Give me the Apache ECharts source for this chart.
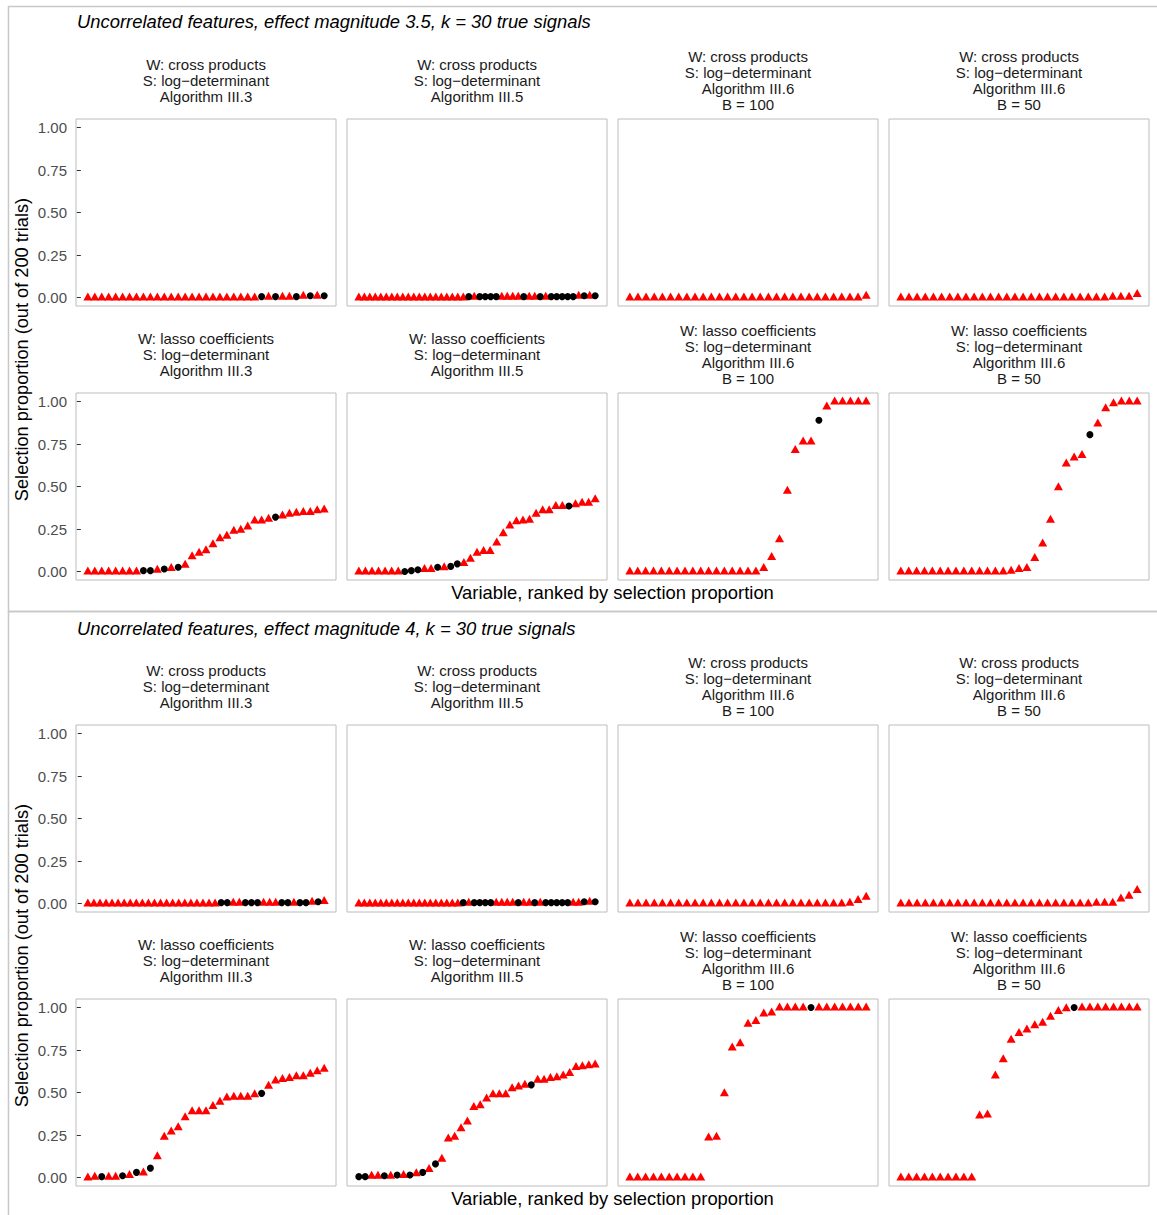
<!DOCTYPE html>
<html>
<head>
<meta charset="utf-8">
<script src="https://cdn.jsdelivr.net/npm/echarts@6/dist/echarts.min.js"></script>
<style>
  html, body { margin: 0; padding: 0; background: #ffffff; }
  #chart { width: 1157px; height: 1215px; }
</style>
</head>
<body>
<div id="chart"></div>
<script>
// Selection proportion (out of 200 trials) of each variable, ranked ascending.
// The *_nulls lists hold the ranks of non-signal variables (black dots);
// every other rank is one of the k = 30 true signals (red triangles).

// ---- effect magnitude 3.5 ----
const m35_cross_III3 = [0,0,0,0,0,0,0,0,0,0, 0,0,0,0,0,0,0,0,0,0, 0,0,0,0,0,
  0.005,0.005,0.005,0.005,0.005,0.005, 0.01,0.01,0.01,0.01];
const m35_cross_III3_nulls = [26,28,31,33,35];

const m35_cross_III5 = [0,0,0,0,0,0,0,0,0,0, 0,0,0,0,0,0,0,0,0,0,
  0.005,0.005,0.005,0.005,0.005,0.005,0.005,0.005,0.005,0.005,
  0.005,0.005,0.005,0.005,0.005,0.005,0.005,0.005,0.005,0.005,
  0.01,0.01,0.01,0.01];
const m35_cross_III5_nulls = [21,23,24,25,26,31,34,36,37,38,39,40,42,44];

const m35_cross_III6_B100 = [0,0,0,0,0,0,0,0,0,0, 0,0,0,0,0,0,0,0,0,0,
  0,0,0,0,0,0,0,0,0, 0.01];
const m35_cross_III6_B100_nulls = [];

const m35_cross_III6_B50 = [0,0,0,0,0,0,0,0,0,0, 0,0,0,0,0,0,0,0,0,0,
  0,0,0,0,0,0, 0.005,0.005,0.005, 0.02];
const m35_cross_III6_B50_nulls = [];

const m35_lasso_III3 = [0,0,0,0,0,0,0,0,0.005,0.005,0.01,0.015,0.02,0.025,0.04,
  0.09,0.11,0.125,0.16,0.195,0.21,0.24,0.245,0.265,0.30,0.30,0.31,0.32,0.33,0.34,
  0.345,0.35,0.35,0.36,0.365];
const m35_lasso_III3_nulls = [9,10,12,14,28];

const m35_lasso_III5 = [0,0,0,0,0,0,0,0,0.005,0.01,0.015,0.015,0.025,0.025,0.03,
  0.045,0.05,0.075,0.11,0.12,0.12,0.17,0.225,0.27,0.295,0.30,0.305,0.34,0.36,0.36,
  0.385,0.385,0.385,0.395,0.405,0.405,0.425];
const m35_lasso_III5_nulls = [8,9,10,13,15,16,33];

const m35_lasso_III6_B100 = [0,0,0,0,0,0,0,0,0,0, 0,0,0,0,0,0,0,
  0.02,0.085,0.19,0.475,0.715,0.765,0.765,0.89,0.97,1,1,1,1,1];
const m35_lasso_III6_B100_nulls = [25];

const m35_lasso_III6_B50 = [0,0,0,0,0,0,0,0,0,0, 0,0,0,0,
  0.005,0.015,0.02,0.08,0.165,0.305,0.495,0.635,0.67,0.685,0.805,0.87,0.96,0.99,1,1,1];
const m35_lasso_III6_B50_nulls = [25];

// ---- effect magnitude 4 ----
const m4_cross_III3 = [0,0,0,0,0,0,0,0,0,0, 0,0,0,0,0,0,0,0,0,0, 0,0,
  0.005,0.005,0.005,0.005,0.005,0.005,0.005,0.005,0.005,0.005,0.005,0.005,0.005,0.005,0.005,
  0.01,0.01,0.015];
const m4_cross_III3_nulls = [23,24,27,28,29,33,34,36,37,39];

const m4_cross_III5 = [0,0,0,0,0,0,0,0,0,0, 0,0,0,0,0,0,0,0,0,
  0.005,0.005,0.005,0.005,0.005,0.005,0.005,0.005,0.005,0.005,0.005,
  0.005,0.005,0.005,0.005,0.005,0.005,0.005,0.005,0.005,0.005,0.005,
  0.01,0.01,0.01];
const m4_cross_III5_nulls = [20,22,23,24,25,30,33,35,36,37,38,39,42,44];

const m4_cross_III6_B100 = [0,0,0,0,0,0,0,0,0,0, 0,0,0,0,0,0,0,0,0,0,
  0,0,0,0,0,0,0, 0.005,0.02,0.04];
const m4_cross_III6_B100_nulls = [];

const m4_cross_III6_B50 = [0,0,0,0,0,0,0,0,0,0, 0,0,0,0,0,0,0,0,0,0,
  0,0,0,0, 0.005,0.005,0.005,0.03,0.045,0.08];
const m4_cross_III6_B50_nulls = [];

const m4_lasso_III3 = [0,0.005,0.005,0.005,0.005,0.01,0.015,0.03,0.03,0.055,
  0.125,0.24,0.27,0.295,0.355,0.39,0.39,0.39,0.42,0.445,0.47,0.475,0.475,0.475,
  0.49,0.495,0.54,0.57,0.58,0.585,0.595,0.595,0.61,0.625,0.64];
const m4_lasso_III3_nulls = [3,6,8,10,26];

const m4_lasso_III5 = [0.005,0.005,0.01,0.01,0.01,0.01,0.015,0.015,0.015,0.025,
  0.03,0.05,0.08,0.11,0.23,0.24,0.29,0.33,0.415,0.425,0.465,0.49,0.49,0.49,
  0.525,0.535,0.545,0.545,0.575,0.575,0.585,0.59,0.6,0.615,0.65,0.655,0.66,0.665];
const m4_lasso_III5_nulls = [1,2,5,7,9,11,13,28];

const m4_lasso_III6_B100 = [0,0,0,0,0,0,0,0,0,0,
  0.235,0.24,0.495,0.765,0.79,0.905,0.92,0.965,0.97,1,1,1,1,1,1,1,1,1,1,1,1];
const m4_lasso_III6_B100_nulls = [24];

const m4_lasso_III6_B50 = [0,0,0,0,0,0,0,0,0,0,
  0.365,0.37,0.6,0.695,0.81,0.85,0.87,0.895,0.91,0.945,0.98,0.995,1,1,1,1,1,1,1,1,1];
const m4_lasso_III6_B50_nulls = [23];

// Labels
const blockTitles = [
  'Uncorrelated features, effect magnitude 3.5, k = 30 true signals',
  'Uncorrelated features, effect magnitude 4, k = 30 true signals'
];
const weightLabels = ['W: cross products', 'W: lasso coefficients'];
const selectorLabel = 'S: log\u2212determinant';
const algorithmLabels = ['Algorithm III.3', 'Algorithm III.5', 'Algorithm III.6', 'Algorithm III.6'];
const bootLabels = ['', '', 'B = 100', 'B = 50'];
const yTicks = [0, 0.25, 0.5, 0.75, 1];
const yTitle = 'Selection proportion (out of 200 trials)';
const xTitle = 'Variable, ranked by selection proportion';

// Panels in reading order: block, then row, then column
const panels = [
  [m35_cross_III3, m35_cross_III3_nulls], [m35_cross_III5, m35_cross_III5_nulls],
  [m35_cross_III6_B100, m35_cross_III6_B100_nulls], [m35_cross_III6_B50, m35_cross_III6_B50_nulls],
  [m35_lasso_III3, m35_lasso_III3_nulls], [m35_lasso_III5, m35_lasso_III5_nulls],
  [m35_lasso_III6_B100, m35_lasso_III6_B100_nulls], [m35_lasso_III6_B50, m35_lasso_III6_B50_nulls],
  [m4_cross_III3, m4_cross_III3_nulls], [m4_cross_III5, m4_cross_III5_nulls],
  [m4_cross_III6_B100, m4_cross_III6_B100_nulls], [m4_cross_III6_B50, m4_cross_III6_B50_nulls],
  [m4_lasso_III3, m4_lasso_III3_nulls], [m4_lasso_III5, m4_lasso_III5_nulls],
  [m4_lasso_III6_B100, m4_lasso_III6_B100_nulls], [m4_lasso_III6_B50, m4_lasso_III6_B50_nulls]
];

// Layout
const FONT = '"Liberation Sans", Arial, Helvetica, sans-serif';
const colLeft = [76, 347, 618, 889];
const rowTop = [119, 393, 725, 999];
const PW = 260, PH = 187;

const grid = [], xAxis = [], yAxis = [], series = [], graphic = [];

panels.forEach(([vals, nulls], i) => {
  const b = Math.floor(i / 8), r = Math.floor((i % 8) / 4), c = i % 4;
  const top = rowTop[2 * b + r];
  grid.push({
    left: colLeft[c], top: top, width: PW, height: PH,
    show: true, borderColor: '#bcbcbc', borderWidth: 1, backgroundColor: '#ffffff'
  });
  const n = vals.length, pad = 0.05 * (n - 1);
  xAxis.push({ gridIndex: i, type: 'value', min: 1 - pad, max: n + pad, show: false });
  yAxis.push({
    gridIndex: i, type: 'value', min: -0.05, max: 1.05,
    show: c === 0,
    axisLine: { show: false },
    splitLine: { show: false },
    axisTick: { show: true, customValues: yTicks, length: 4, lineStyle: { color: '#333333', width: 1 } },
    axisLabel: {
      show: true, customValues: yTicks, formatter: v => v.toFixed(2),
      color: '#4d4d4d', fontSize: 15, fontFamily: FONT, margin: 9
    }
  });
  const sig = [], nul = [];
  vals.forEach((v, k) => {
    const rank = k + 1;
    (nulls.includes(rank) ? nul : sig).push([rank, v]);
  });
  series.push({
    type: 'scatter', xAxisIndex: i, yAxisIndex: i, data: sig,
    symbol: 'triangle', symbolSize: [9, 8], symbolOffset: [0, -1],
    itemStyle: { color: '#ff0000', opacity: 1 }, silent: true
  });
  series.push({
    type: 'scatter', xAxisIndex: i, yAxisIndex: i, data: nul,
    symbol: 'circle', symbolSize: 7,
    itemStyle: { color: '#000000', opacity: 1 }, silent: true
  });

  // facet strip label
  const lines = [weightLabels[r], selectorLabel, algorithmLabels[c]];
  if (bootLabels[c]) lines.push(bootLabels[c]);
  graphic.push({
    type: 'text', x: colLeft[c] + PW / 2, y: top - 39,
    style: {
      text: lines.join('\n'), align: 'center', verticalAlign: 'middle',
      font: '15px ' + FONT, lineHeight: 16, fill: '#1a1a1a'
    }
  });
});

// Block frames, titles and axis titles
const blockTop = [6, 611];
const blockH = [605, 610];
const titleY = [21, 628];
[0, 1].forEach(b => {
  graphic.push({
    type: 'rect', shape: { x: 8.5, y: blockTop[b] + 0.5, width: 1160, height: blockH[b] },
    style: { fill: 'none', stroke: '#c8c8c8', lineWidth: 1.5 }, z: -1
  });
  graphic.push({
    type: 'text', x: 77, y: titleY[b],
    style: {
      text: blockTitles[b], align: 'left', verticalAlign: 'middle',
      font: 'italic 18.4px ' + FONT, fill: '#000000'
    }
  });
  const rt = rowTop[2 * b], rb = rowTop[2 * b + 1] + PH;
  graphic.push({
    type: 'text', x: 22, y: (rt + rb) / 2, rotation: Math.PI / 2,
    style: {
      text: yTitle, align: 'center', verticalAlign: 'middle',
      font: '18.2px ' + FONT, fill: '#000000'
    }
  });
  graphic.push({
    type: 'text', x: (colLeft[0] + colLeft[3] + PW) / 2, y: rb + 12,
    style: {
      text: xTitle, align: 'center', verticalAlign: 'middle',
      font: '18.4px ' + FONT, fill: '#000000'
    }
  });
});

const chart = echarts.init(document.getElementById('chart'), null, { renderer: 'svg' });
chart.setOption({
  animation: false,
  backgroundColor: '#ffffff',
  textStyle: { fontFamily: FONT },
  grid, xAxis, yAxis, series, graphic
});
</script>
</body>
</html>
